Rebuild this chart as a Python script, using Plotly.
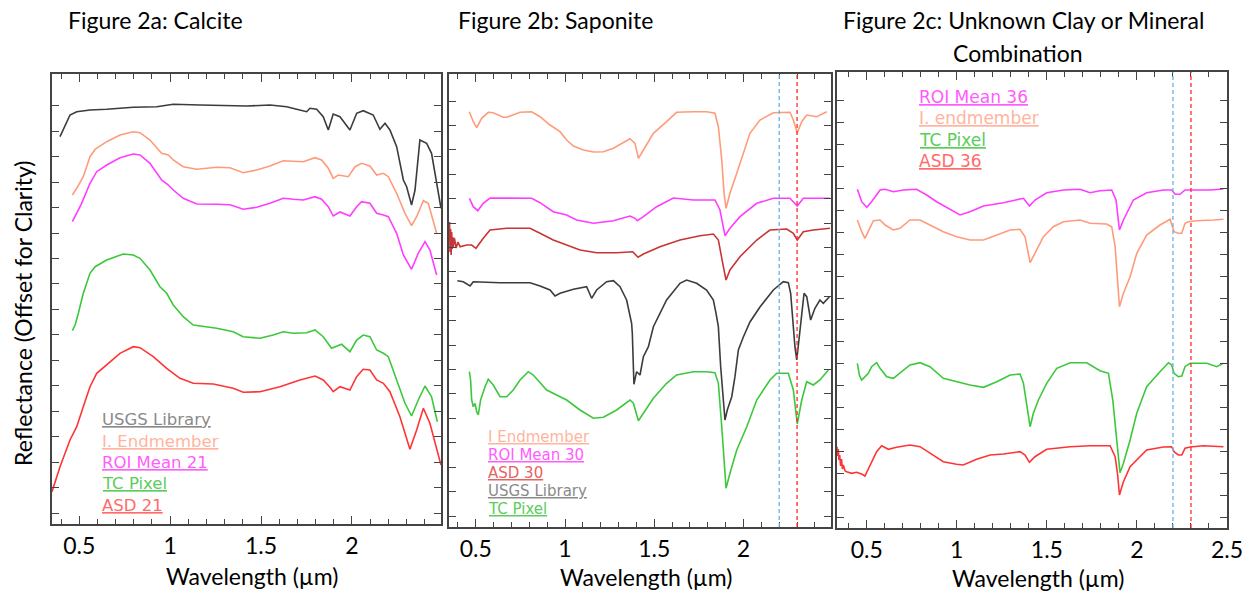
import plotly.graph_objects as go

# ---------------- Panel A: Calcite ----------------
a_usgs_x = [0.394,0.449,0.486,0.559,0.651,0.797,0.926,1.017,1.164,1.292,1.421,1.549,1.641,1.696,1.751,1.769,1.806,1.842,1.870,1.897,1.934,1.989,2.026,2.062,2.117,2.154,2.182,2.209,2.246,2.283,2.301,2.328,2.347,2.374,2.411,2.438,2.466,2.490]
a_usgs_y = [38.73,40.9,41.23,41.4,41.47,41.67,41.73,41.97,41.9,41.83,41.8,41.9,41.73,41.47,41.23,41.57,41.47,40.73,39.4,41.0,40.73,39.4,41.07,41.33,40.9,39.47,40.07,39.4,37.73,34.4,33.73,31.9,33.4,38.4,38.07,37.07,34.07,31.57]

a_end_x = [0.462,0.486,0.522,0.559,0.587,0.651,0.724,0.797,0.834,0.889,0.953,0.990,1.017,1.072,1.146,1.256,1.329,1.402,1.476,1.549,1.622,1.677,1.732,1.797,1.833,1.870,1.897,1.925,1.980,2.017,2.053,2.099,2.136,2.173,2.200,2.246,2.292,2.328,2.356,2.393,2.420,2.466]
a_end_y = [32.9,33.57,34.73,36.73,37.47,38.23,38.9,39.23,39.13,38.4,37.07,36.9,36.4,35.73,35.47,35.67,35.63,35.13,35.4,35.8,36.33,36.3,36.23,36.63,36.4,35.57,34.57,34.9,34.73,35.73,36.07,35.8,34.9,35.07,34.73,33.07,31.07,29.83,30.73,32.33,32.07,29.07]

a_roi_x = [0.462,0.513,0.559,0.596,0.651,0.724,0.797,0.834,0.889,0.953,0.990,1.017,1.072,1.146,1.256,1.329,1.402,1.476,1.549,1.622,1.677,1.732,1.797,1.833,1.870,1.897,1.934,1.989,2.026,2.053,2.099,2.136,2.173,2.200,2.246,2.283,2.328,2.365,2.402,2.429,2.466]
a_roi_y = [30.23,32.07,34.07,35.23,35.9,36.63,37.0,36.9,36.07,34.4,33.9,33.4,32.57,32.0,31.97,31.93,31.47,31.67,32.07,32.57,32.47,32.4,32.73,32.47,31.73,30.8,31.2,30.8,31.73,32.23,32.07,31.07,30.9,30.73,29.07,26.9,25.47,27.07,28.23,27.4,24.9]

a_tc_x = [0.462,0.477,0.495,0.522,0.559,0.587,0.651,0.742,0.797,0.834,0.889,0.944,0.981,1.017,1.072,1.127,1.256,1.347,1.402,1.494,1.567,1.622,1.677,1.751,1.797,1.842,1.888,1.907,1.943,1.989,2.026,2.062,2.099,2.136,2.173,2.200,2.246,2.292,2.328,2.365,2.402,2.438,2.470]
a_tc_y = [19.33,19.9,21.07,23.07,25.07,25.73,26.4,27.0,26.9,26.57,25.4,23.73,23.07,21.9,20.73,19.9,19.57,19.23,18.73,18.57,18.9,19.23,19.07,19.13,19.4,18.73,17.57,17.73,17.97,17.23,18.4,18.9,18.73,17.4,17.07,16.73,14.4,12.07,10.8,12.4,13.8,12.73,10.23]

a_asd_x = [0.35,0.394,0.449,0.486,0.522,0.559,0.596,0.651,0.724,0.797,0.834,0.907,0.981,1.054,1.127,1.237,1.347,1.402,1.494,1.604,1.714,1.797,1.842,1.879,1.897,1.934,1.989,2.026,2.062,2.099,2.136,2.173,2.209,2.264,2.319,2.356,2.393,2.429,2.466,2.490]
a_asd_y = [3.23,5.73,8.4,9.73,11.73,13.73,15.07,15.9,17.07,17.73,17.63,16.73,15.57,14.57,14.07,14.0,13.57,13.17,13.23,13.73,14.4,14.8,14.4,13.67,13.23,13.73,13.4,14.73,15.47,15.4,14.4,14.07,13.23,10.73,7.47,9.4,11.57,10.07,7.4,5.9]

# ---------------- Panel B: Saponite ----------------
b_end_x = [0.464,0.486,0.505,0.533,0.570,0.598,0.654,0.673,0.748,0.813,0.860,0.916,0.972,1.009,1.047,1.103,1.159,1.215,1.271,1.327,1.364,1.392,1.411,1.439,1.495,1.569,1.625,1.719,1.793,1.840,1.859,1.878,1.891,1.902,1.924,1.962,1.999,2.036,2.092,2.167,2.260,2.279,2.301,2.326,2.354,2.410,2.466]
b_end_y = [41.53,40.53,39.93,40.87,41.47,41.43,40.97,40.97,41.47,41.53,41.03,40.2,39.53,38.7,38.1,37.7,37.5,37.53,37.87,38.43,38.83,38.37,36.87,37.7,39.37,40.53,41.47,41.53,41.53,41.37,40.03,36.7,33.37,31.87,33.37,35.37,37.37,39.37,40.7,41.43,41.47,40.7,39.43,40.53,41.2,41.03,41.53]

b_roi_x = [0.464,0.486,0.511,0.542,0.580,0.673,0.813,0.860,0.934,1.009,1.065,1.159,1.271,1.364,1.392,1.405,1.439,1.513,1.607,1.719,1.840,1.868,1.896,1.924,1.980,2.074,2.167,2.260,2.301,2.335,2.484]
b_roi_y = [32.87,32.03,31.63,32.37,32.9,32.87,32.87,32.43,31.53,31.2,30.7,30.37,30.63,31.1,30.87,30.63,31.03,32.03,32.9,32.7,32.7,31.7,29.13,29.87,31.03,32.37,32.87,32.87,32.1,32.87,32.87]

b_asd_x = [0.350,0.353,0.356,0.359,0.362,0.365,0.368,0.371,0.374,0.380,0.390,0.400,0.412,0.449,0.477,0.501,0.542,0.580,0.673,0.804,0.860,0.934,1.009,1.084,1.177,1.289,1.379,1.409,1.439,1.532,1.644,1.756,1.831,1.859,1.887,1.902,1.924,1.980,2.074,2.148,2.242,2.279,2.301,2.335,2.391,2.484]
b_asd_y = [28.7,30.5,27.5,29.8,27.2,29.5,27.8,29.0,28.0,28.9,27.9,28.5,28.03,28.2,28.2,27.87,28.87,29.7,29.87,29.87,29.37,28.7,28.2,27.7,27.43,27.43,27.53,26.97,27.3,28.03,28.7,29.13,29.3,28.7,26.03,24.7,25.7,27.03,28.7,29.7,29.8,29.37,28.7,29.53,29.7,29.87]

b_usgs_x = [0.397,0.430,0.468,0.486,0.636,0.804,0.860,0.916,0.944,0.972,1.047,1.121,1.149,1.177,1.233,1.271,1.308,1.345,1.373,1.377,1.386,1.401,1.420,1.439,1.467,1.495,1.569,1.644,1.681,1.737,1.793,1.831,1.846,1.859,1.872,1.887,1.896,1.909,1.934,1.952,1.971,1.999,2.036,2.092,2.167,2.223,2.251,2.264,2.275,2.288,2.298,2.313,2.326,2.339,2.354,2.376,2.400,2.428,2.447,2.481]
b_usgs_y = [24.63,24.53,24.1,24.53,24.43,24.43,24.1,23.7,23.1,23.37,23.77,24.03,22.87,23.7,24.53,24.63,24.03,22.7,20.37,19.37,14.27,15.53,15.2,17.03,18.03,20.03,22.7,24.37,24.7,24.37,23.7,22.7,21.37,20.03,16.03,12.03,10.7,11.7,13.03,15.03,17.7,19.0,20.5,22.0,23.7,24.53,24.43,23.37,20.7,18.03,16.7,19.03,21.37,23.37,23.03,20.7,21.87,22.7,22.37,23.03]

b_tc_x = [0.464,0.471,0.477,0.486,0.496,0.505,0.514,0.527,0.552,0.570,0.598,0.636,0.673,0.710,0.748,0.794,0.822,0.897,1.009,1.084,1.159,1.215,1.289,1.364,1.383,1.411,1.439,1.495,1.569,1.625,1.719,1.793,1.840,1.859,1.878,1.902,1.924,1.962,2.018,2.074,2.148,2.186,2.251,2.279,2.301,2.326,2.354,2.391,2.428,2.475]
b_tc_y = [15.53,14.7,12.7,12.03,12.37,11.53,11.2,12.7,14.03,14.77,14.2,13.03,13.03,13.7,14.7,15.53,15.2,13.7,12.7,11.7,10.87,10.97,11.7,12.7,12.37,10.63,11.37,12.87,14.37,15.2,15.53,15.53,15.43,14.37,10.03,3.87,5.37,7.7,10.03,12.7,14.7,15.37,15.37,13.7,10.3,12.7,14.53,14.2,14.7,15.7]

# ---------------- Panel C: Unknown clay ----------------
c_roi_x = [0.448,0.472,0.500,0.527,0.574,0.602,0.648,0.703,0.777,0.833,0.888,0.962,1.018,1.073,1.148,1.259,1.333,1.370,1.403,1.434,1.499,1.592,1.684,1.740,1.795,1.860,1.884,1.903,1.925,1.980,2.054,2.147,2.193,2.212,2.239,2.267,2.295,2.332,2.406,2.480]
c_roi_y = [33.87,32.63,32.07,32.63,33.8,33.87,33.63,33.8,33.87,33.3,32.63,31.87,31.3,31.63,32.2,32.53,32.8,32.97,32.2,32.8,33.53,33.8,33.87,33.53,33.73,33.8,32.8,29.8,30.8,32.8,33.53,33.8,33.8,33.37,33.37,33.8,33.8,33.8,33.8,33.9]

c_end_x = [0.448,0.472,0.490,0.518,0.537,0.574,0.602,0.648,0.685,0.740,0.796,0.851,0.925,0.999,1.073,1.148,1.222,1.296,1.351,1.379,1.407,1.434,1.481,1.536,1.592,1.684,1.740,1.832,1.860,1.879,1.892,1.903,1.925,1.962,1.999,2.054,2.128,2.184,2.206,2.230,2.249,2.267,2.286,2.332,2.425,2.480]
c_end_y = [30.8,29.63,28.97,29.97,30.73,30.8,30.3,29.8,29.97,30.8,30.8,30.3,29.63,29.13,28.8,28.8,29.3,29.8,29.87,29.13,26.53,27.47,29.13,30.13,30.63,30.8,30.47,30.4,30.13,28.13,25.13,22.13,23.47,25.13,27.47,29.3,30.3,30.87,29.63,29.47,29.47,30.47,30.63,30.73,30.8,30.87]

c_tc_x = [0.448,0.459,0.472,0.490,0.509,0.527,0.555,0.574,0.611,0.648,0.685,0.740,0.796,0.851,0.925,0.999,1.073,1.148,1.222,1.296,1.351,1.370,1.388,1.407,1.425,1.453,1.499,1.555,1.629,1.721,1.795,1.842,1.866,1.888,1.906,1.925,1.962,1.999,2.054,2.128,2.175,2.193,2.206,2.230,2.249,2.267,2.295,2.332,2.388,2.443,2.480]
c_tc_y = [16.47,15.3,14.8,15.13,15.47,16.13,16.53,15.97,15.13,14.97,15.47,16.3,16.53,16.13,14.97,14.63,14.3,14.07,14.63,15.3,15.4,14.47,12.13,10.13,11.47,12.8,14.47,15.97,16.53,16.53,15.73,15.47,12.8,8.8,5.53,6.47,8.8,11.47,14.13,15.63,16.53,16.3,15.47,15.13,15.2,16.13,16.47,16.47,16.47,16.13,16.47]

c_asd_x = [0.335,0.338,0.342,0.346,0.350,0.355,0.360,0.365,0.370,0.380,0.389,0.416,0.444,0.472,0.490,0.518,0.555,0.583,0.620,0.666,0.740,0.796,0.851,0.925,0.999,1.036,1.110,1.185,1.259,1.351,1.379,1.403,1.434,1.499,1.629,1.740,1.851,1.879,1.892,1.903,1.925,1.962,2.054,2.147,2.193,2.206,2.230,2.249,2.267,2.295,2.369,2.480]
c_asd_y = [8.13,7.2,7.9,6.8,7.3,6.2,6.9,5.9,6.3,5.7,5.63,5.47,5.57,5.4,5.2,6.3,7.63,8.23,7.87,8.07,8.3,8.13,7.47,6.63,6.37,6.3,6.87,7.3,7.4,7.63,7.3,6.57,7.13,7.87,8.13,8.23,8.23,7.13,5.47,3.3,4.63,6.13,7.8,8.1,8.13,7.63,7.3,7.3,7.97,8.1,8.23,8.13]

# ---------------- labels ----------------
panel_titles = ["Figure 2a: Calcite", "Figure 2b: Saponite", "Figure 2c: Unknown Clay or Mineral", "Combination"]
x_title = "Wavelength (µm)"
y_title = "Reflectance (Offset for Clarity)"
x_tick_vals = [0.5, 1, 1.5, 2, 2.5]
x_tick_text = ["0.5", "1", "1.5", "2", "2.5"]
a_legend = ["USGS Library", "I. Endmember", "ROI Mean 21", "TC Pixel", "ASD 21"]
b_legend = ["I Endmember", "ROI Mean 30", "ASD 30", "USGS Library", "TC Pixel"]
c_legend = ["ROI Mean 36", "I. endmember", "TC Pixel", "ASD 36"]
marker_lines = [2.2, 2.3]

# ---------------- styling ----------------
C_USGS = "#3c3c3c"
C_END = "#ff9b7b"
C_ROI = "#ff3cff"
C_TC = "#3cc83c"
C_ASD = "#ff3434"
C_ASD_B = "#c93535"
T_USGS = "#8a8a8a"
T_END = "#ffb49e"
T_ROI = "#ff5cff"
T_TC = "#5ccc5c"
T_ASD = "#ff6b6b"
T_ASD_B = "#e46464"
FONT = "Lato"
AX = "#444444"

W, H = 1251, 594
def PX(px):
    return px / W
def PY(py):
    return 1 - py / H

fig = go.Figure()

def add(xs, ys, color, ax, width=1.6):
    fig.add_trace(go.Scatter(x=xs, y=ys, mode="lines", line=dict(color=color, width=width),
                             xaxis="x" + ax, yaxis="y" + ax, hoverinfo="skip", showlegend=False))

add(a_usgs_x, a_usgs_y, C_USGS, "")
add(a_end_x, a_end_y, C_END, "")
add(a_roi_x, a_roi_y, C_ROI, "")
add(a_tc_x, a_tc_y, C_TC, "")
add(a_asd_x, a_asd_y, C_ASD, "")

add(b_end_x, b_end_y, C_END, "2")
add(b_roi_x, b_roi_y, C_ROI, "2")
add(b_asd_x, b_asd_y, C_ASD_B, "2")
add(b_usgs_x, b_usgs_y, C_USGS, "2")
add(b_tc_x, b_tc_y, C_TC, "2")

add(c_roi_x, c_roi_y, C_ROI, "3")
add(c_end_x, c_end_y, C_END, "3")
add(c_tc_x, c_tc_y, C_TC, "3")
add(c_asd_x, c_asd_y, C_ASD, "3")

panels = [
    dict(px=(52, 441), py=(74, 524), xr=[0.35, 2.49], yr=[0, 45.0], t0=1.1, dt=2.545, n=17),
    dict(px=(449, 831), py=(74, 527), xr=[0.35, 2.49], yr=[0, 45.3], t0=1.1, dt=2.441, n=18),
    dict(px=(837, 1227), py=(72, 528), xr=[0.335, 2.5], yr=[0, 45.6], t0=1.07, dt=2.193, n=20),
]
layout = {}
for i, p in enumerate(panels):
    s = "" if i == 0 else str(i + 1)
    layout["xaxis" + s] = dict(
        domain=[PX(p["px"][0]), PX(p["px"][1])], range=p["xr"], anchor="y" + s, automargin=False,
        showline=True, linecolor=AX, linewidth=1.5, mirror="allticks",
        ticks="inside", ticklen=8, tickwidth=1.2, tickcolor=AX,
        tickmode="array", tickvals=x_tick_vals, ticktext=x_tick_text,
        tickfont=dict(family=FONT, size=23, color="black"), ticklabelstandoff=1,
        ticklabeloverflow="allow",
        minor=dict(dtick=0.1, tick0=0, ticks="inside", ticklen=5, tickcolor=AX, tickwidth=1.2, showgrid=False),
        showgrid=False, zeroline=False, fixedrange=True)
    layout["yaxis" + s] = dict(
        domain=[PY(p["py"][1]), PY(p["py"][0])], range=p["yr"], anchor="x" + s, automargin=False,
        showline=True, linecolor=AX, linewidth=1.5, mirror="allticks",
        ticks="inside", ticklen=7, tickwidth=1.2, tickcolor=AX,
        tickmode="array", tickvals=[p["t0"] + k * p["dt"] for k in range(p["n"])],
        showticklabels=False, showgrid=False, zeroline=False, fixedrange=True)

shapes = []
for ax in ["2", "3"]:
    for xv, col in zip(marker_lines, ["#6cb0e6", "#ff2a2a"]):
        shapes.append(dict(type="line", xref="x" + ax, yref="y" + ax + " domain", x0=xv, x1=xv, y0=0, y1=1,
                           line=dict(color=col, width=1.3, dash="4px,3px")))

ann = []
def txt(text, x, y, size=23, xanchor="left", xref="paper", yref="paper", color="black", angle=0, family=FONT):
    ann.append(dict(text=text, x=x, y=y, xref=xref, yref=yref, xanchor=xanchor, yanchor="middle",
                    showarrow=False, textangle=angle, font=dict(family=family, size=size, color=color)))

txt(panel_titles[0], PX(66), PY(20))
txt(panel_titles[1], PX(456), PY(20))
txt(panel_titles[2], PX(841), PY(20))
txt(panel_titles[3], PX(1018), PY(53), xanchor="center")
for cx, cy in [(252, 576), (646, 577), (1038, 578)]:
    txt(x_title, PX(cx), PY(cy), xanchor="center")
txt(y_title, PX(23), PY(313), xanchor="center", angle=-90)

LF = "DejaVu Sans"
for lab, col, yv in zip(a_legend, [T_USGS, T_END, T_ROI, T_TC, T_ASD], [10.5, 8.3, 6.2, 4.1, 1.9]):
    txt("<u>" + lab + "</u>", 0.614, yv, size=16.5, xref="x", yref="y", color=col, family=LF)
for lab, col, yv in zip(b_legend, [T_END, T_ROI, T_ASD_B, T_USGS, T_TC], [9.0, 7.2, 5.4, 3.6, 1.8]):
    txt("<u>" + lab + "</u>", 0.557, yv, size=15, xref="x2", yref="y2", color=col, family=LF)
for lab, col, yv in zip(c_legend, [T_ROI, T_END, T_TC, T_ASD], [43.1, 41.0, 38.8, 36.7]):
    txt("<u>" + lab + "</u>", 0.779, yv, size=17, xref="x3", yref="y3", color=col, family=LF)

fig.update_layout(**layout, shapes=shapes, annotations=ann, width=W, height=H, autosize=False,
                  margin=dict(l=0, r=0, t=0, b=0, autoexpand=False), paper_bgcolor="white", plot_bgcolor="white",
                  showlegend=False)
fig.write_html("out.html", config={"displayModeBar": False},
               post_script="document.body.style.margin='0px';document.body.style.overflow='hidden';")
